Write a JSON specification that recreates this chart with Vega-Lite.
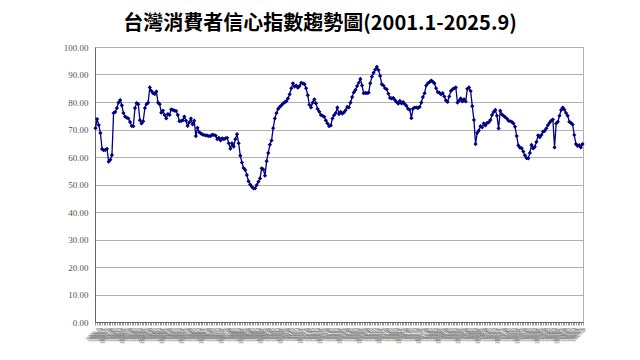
{
  "$schema": "https://vega.github.io/schema/vega-lite/v6.json",
  "autosize": "none",
  "width": 488,
  "height": 275,
  "padding": {"left": 95, "top": 47, "right": 57, "bottom": 38},
  "background": "white",
  "title": {
    "text": "台灣消費者信心指數趨勢圖(2001.1-2025.9)",
    "anchor": "middle",
    "frame": "group",
    "dx": -19,
    "offset": 9,
    "font": "Noto Sans CJK TC",
    "fontSize": 20,
    "fontWeight": "bold",
    "color": "#000000"
  },
  "config": {
    "view": {"stroke": "#b0b0b0", "strokeWidth": 1}
  },
  "data": {"values": [
{"m":"2001.1","v":70.5},{"m":"2001.2","v":73.8},{"m":"2001.3","v":71.6},{"m":"2001.4","v":68.7},{"m":"2001.5","v":62.9},{"m":"2001.6","v":62.5},{"m":"2001.7","v":62.6},{"m":"2001.8","v":63.0},{"m":"2001.9","v":58.3},{"m":"2001.10","v":59.0},{"m":"2001.11","v":60.7},{"m":"2001.12","v":76.0},
{"m":"2002.1","v":76.4},{"m":"2002.2","v":77.8},{"m":"2002.3","v":79.8},{"m":"2002.4","v":80.7},{"m":"2002.5","v":78.8},{"m":"2002.6","v":76.0},{"m":"2002.7","v":74.7},{"m":"2002.8","v":74.3},{"m":"2002.9","v":74.0},{"m":"2002.10","v":72.7},{"m":"2002.11","v":71.3},{"m":"2002.12","v":71.2},
{"m":"2003.1","v":77.8},{"m":"2003.2","v":79.6},{"m":"2003.3","v":79.2},{"m":"2003.4","v":73.4},{"m":"2003.5","v":72.2},{"m":"2003.6","v":73.0},{"m":"2003.7","v":77.8},{"m":"2003.8","v":79.2},{"m":"2003.9","v":79.8},{"m":"2003.10","v":85.3},{"m":"2003.11","v":84.0},{"m":"2003.12","v":83.2},
{"m":"2004.1","v":82.9},{"m":"2004.2","v":83.8},{"m":"2004.3","v":79.8},{"m":"2004.4","v":79.2},{"m":"2004.5","v":76.1},{"m":"2004.6","v":76.9},{"m":"2004.7","v":75.3},{"m":"2004.8","v":74.0},{"m":"2004.9","v":75.6},{"m":"2004.10","v":75.3},{"m":"2004.11","v":77.3},{"m":"2004.12","v":77.1},
{"m":"2005.1","v":76.9},{"m":"2005.2","v":76.7},{"m":"2005.3","v":75.3},{"m":"2005.4","v":73.0},{"m":"2005.5","v":73.1},{"m":"2005.6","v":73.3},{"m":"2005.7","v":74.7},{"m":"2005.8","v":73.2},{"m":"2005.9","v":71.3},{"m":"2005.10","v":72.6},{"m":"2005.11","v":74.0},{"m":"2005.12","v":71.9},
{"m":"2006.1","v":73.2},{"m":"2006.2","v":67.6},{"m":"2006.3","v":70.6},{"m":"2006.4","v":69.0},{"m":"2006.5","v":68.6},{"m":"2006.6","v":68.2},{"m":"2006.7","v":68.0},{"m":"2006.8","v":67.9},{"m":"2006.9","v":67.8},{"m":"2006.10","v":67.6},{"m":"2006.11","v":67.6},{"m":"2006.12","v":68.1},
{"m":"2007.1","v":68.0},{"m":"2007.2","v":67.8},{"m":"2007.3","v":66.5},{"m":"2007.4","v":67.0},{"m":"2007.5","v":66.0},{"m":"2007.6","v":66.8},{"m":"2007.7","v":66.5},{"m":"2007.8","v":66.8},{"m":"2007.9","v":67.0},{"m":"2007.10","v":65.0},{"m":"2007.11","v":63.0},{"m":"2007.12","v":65.0},
{"m":"2008.1","v":63.8},{"m":"2008.2","v":66.5},{"m":"2008.3","v":68.3},{"m":"2008.4","v":65.0},{"m":"2008.5","v":60.5},{"m":"2008.6","v":58.0},{"m":"2008.7","v":56.0},{"m":"2008.8","v":55.3},{"m":"2008.9","v":53.5},{"m":"2008.10","v":51.2},{"m":"2008.11","v":50.0},{"m":"2008.12","v":49.2},
{"m":"2009.1","v":48.6},{"m":"2009.2","v":48.6},{"m":"2009.3","v":49.8},{"m":"2009.4","v":51.0},{"m":"2009.5","v":52.2},{"m":"2009.6","v":55.9},{"m":"2009.7","v":55.5},{"m":"2009.8","v":53.2},{"m":"2009.9","v":58.5},{"m":"2009.10","v":61.5},{"m":"2009.11","v":64.5},{"m":"2009.12","v":66.0},
{"m":"2010.1","v":70.5},{"m":"2010.2","v":74.0},{"m":"2010.3","v":76.0},{"m":"2010.4","v":77.5},{"m":"2010.5","v":78.2},{"m":"2010.6","v":78.8},{"m":"2010.7","v":79.5},{"m":"2010.8","v":79.9},{"m":"2010.9","v":80.3},{"m":"2010.10","v":81.3},{"m":"2010.11","v":82.8},{"m":"2010.12","v":85.0},
{"m":"2011.1","v":86.8},{"m":"2011.2","v":85.6},{"m":"2011.3","v":86.0},{"m":"2011.4","v":85.2},{"m":"2011.5","v":85.8},{"m":"2011.6","v":87.0},{"m":"2011.7","v":86.8},{"m":"2011.8","v":86.5},{"m":"2011.9","v":85.0},{"m":"2011.10","v":82.5},{"m":"2011.11","v":79.0},{"m":"2011.12","v":78.0},
{"m":"2012.1","v":79.8},{"m":"2012.2","v":81.0},{"m":"2012.3","v":79.5},{"m":"2012.4","v":77.5},{"m":"2012.5","v":76.5},{"m":"2012.6","v":75.3},{"m":"2012.7","v":75.0},{"m":"2012.8","v":74.6},{"m":"2012.9","v":73.3},{"m":"2012.10","v":72.2},{"m":"2012.11","v":71.2},{"m":"2012.12","v":71.5},
{"m":"2013.1","v":74.0},{"m":"2013.2","v":75.2},{"m":"2013.3","v":76.0},{"m":"2013.4","v":78.0},{"m":"2013.5","v":75.6},{"m":"2013.6","v":76.4},{"m":"2013.7","v":75.8},{"m":"2013.8","v":76.2},{"m":"2013.9","v":77.0},{"m":"2013.10","v":78.2},{"m":"2013.11","v":78.0},{"m":"2013.12","v":79.8},
{"m":"2014.1","v":81.8},{"m":"2014.2","v":83.5},{"m":"2014.3","v":84.4},{"m":"2014.4","v":85.8},{"m":"2014.5","v":87.0},{"m":"2014.6","v":88.4},{"m":"2014.7","v":86.0},{"m":"2014.8","v":83.2},{"m":"2014.9","v":83.3},{"m":"2014.10","v":83.2},{"m":"2014.11","v":83.4},{"m":"2014.12","v":86.8},
{"m":"2015.1","v":89.2},{"m":"2015.2","v":90.6},{"m":"2015.3","v":91.8},{"m":"2015.4","v":92.8},{"m":"2015.5","v":91.6},{"m":"2015.6","v":89.5},{"m":"2015.7","v":86.5},{"m":"2015.8","v":86.0},{"m":"2015.9","v":85.0},{"m":"2015.10","v":84.6},{"m":"2015.11","v":83.0},{"m":"2015.12","v":81.5},
{"m":"2016.1","v":81.3},{"m":"2016.2","v":81.5},{"m":"2016.3","v":80.7},{"m":"2016.4","v":80.0},{"m":"2016.5","v":79.4},{"m":"2016.6","v":80.4},{"m":"2016.7","v":79.5},{"m":"2016.8","v":80.0},{"m":"2016.9","v":79.2},{"m":"2016.10","v":78.6},{"m":"2016.11","v":77.5},{"m":"2016.12","v":77.2},
{"m":"2017.1","v":74.1},{"m":"2017.2","v":77.6},{"m":"2017.3","v":78.0},{"m":"2017.4","v":78.0},{"m":"2017.5","v":77.8},{"m":"2017.6","v":78.2},{"m":"2017.7","v":79.8},{"m":"2017.8","v":81.8},{"m":"2017.9","v":83.2},{"m":"2017.10","v":86.0},{"m":"2017.11","v":86.8},{"m":"2017.12","v":87.2},
{"m":"2018.1","v":87.8},{"m":"2018.2","v":87.4},{"m":"2018.3","v":86.8},{"m":"2018.4","v":85.0},{"m":"2018.5","v":83.6},{"m":"2018.6","v":83.4},{"m":"2018.7","v":82.8},{"m":"2018.8","v":83.2},{"m":"2018.9","v":82.0},{"m":"2018.10","v":80.6},{"m":"2018.11","v":80.0},{"m":"2018.12","v":82.0},
{"m":"2019.1","v":84.0},{"m":"2019.2","v":84.6},{"m":"2019.3","v":85.0},{"m":"2019.4","v":85.3},{"m":"2019.5","v":79.8},{"m":"2019.6","v":80.5},{"m":"2019.7","v":81.3},{"m":"2019.8","v":80.2},{"m":"2019.9","v":81.0},{"m":"2019.10","v":80.2},{"m":"2019.11","v":84.8},{"m":"2019.12","v":85.3},
{"m":"2020.1","v":84.0},{"m":"2020.2","v":78.5},{"m":"2020.3","v":73.5},{"m":"2020.4","v":64.7},{"m":"2020.5","v":68.8},{"m":"2020.6","v":69.6},{"m":"2020.7","v":71.2},{"m":"2020.8","v":70.8},{"m":"2020.9","v":72.2},{"m":"2020.10","v":71.5},{"m":"2020.11","v":72.4},{"m":"2020.12","v":72.6},
{"m":"2021.1","v":73.5},{"m":"2021.2","v":75.3},{"m":"2021.3","v":76.4},{"m":"2021.4","v":77.1},{"m":"2021.5","v":75.0},{"m":"2021.6","v":70.4},{"m":"2021.7","v":76.8},{"m":"2021.8","v":75.5},{"m":"2021.9","v":75.0},{"m":"2021.10","v":74.5},{"m":"2021.11","v":74.0},{"m":"2021.12","v":73.2},
{"m":"2022.1","v":73.0},{"m":"2022.2","v":72.8},{"m":"2022.3","v":72.2},{"m":"2022.4","v":71.0},{"m":"2022.5","v":67.6},{"m":"2022.6","v":64.2},{"m":"2022.7","v":63.4},{"m":"2022.8","v":63.2},{"m":"2022.9","v":62.0},{"m":"2022.10","v":60.6},{"m":"2022.11","v":59.6},{"m":"2022.12","v":59.5},
{"m":"2023.1","v":61.5},{"m":"2023.2","v":64.4},{"m":"2023.3","v":63.1},{"m":"2023.4","v":63.7},{"m":"2023.5","v":65.5},{"m":"2023.6","v":67.9},{"m":"2023.7","v":67.2},{"m":"2023.8","v":68.0},{"m":"2023.9","v":69.2},{"m":"2023.10","v":69.5},{"m":"2023.11","v":70.4},{"m":"2023.12","v":71.6},
{"m":"2024.1","v":72.5},{"m":"2024.2","v":73.2},{"m":"2024.3","v":73.6},{"m":"2024.4","v":63.5},{"m":"2024.5","v":72.2},{"m":"2024.6","v":72.8},{"m":"2024.7","v":75.0},{"m":"2024.8","v":77.1},{"m":"2024.9","v":78.0},{"m":"2024.10","v":77.2},{"m":"2024.11","v":76.0},{"m":"2024.12","v":75.0},
{"m":"2025.1","v":72.8},{"m":"2025.2","v":72.4},{"m":"2025.3","v":71.8},{"m":"2025.4","v":68.0},{"m":"2025.5","v":64.7},{"m":"2025.6","v":64.0},{"m":"2025.7","v":64.3},{"m":"2025.8","v":63.5},{"m":"2025.9","v":64.7}
  ]},
  "mark": {
    "type": "line",
    "color": "#000080",
    "strokeWidth": 1.3,
    "point": {"shape": "diamond", "size": 18, "filled": true, "color": "#000080"}
  },
  "encoding": {
    "x": {
      "field": "m",
      "type": "ordinal",
      "sort": null,
      "scale": {"type": "point", "padding": 0.3},
      "axis": {
        "title": null,
        "labelAngle": -45,
        "labelFontSize": 6,
        "labelColor": "#777777",
        "labelFont": "Liberation Serif",
        "labelOverlap": false,
        "labelPadding": 1,
        "tickSize": 3,
        "tickColor": "#999999",
        "domainColor": "#666666",
        "grid": false
      }
    },
    "y": {
      "field": "v",
      "type": "quantitative",
      "scale": {"domain": [0, 100], "nice": false},
      "axis": {
        "title": null,
        "values": [0,10,20,30,40,50,60,70,80,90,100],
        "format": ".2f",
        "labelFont": "Liberation Serif",
        "labelFontSize": 9,
        "labelColor": "#555555",
        "labelPadding": 7,
        "ticks": false,
        "domainColor": "#666666",
        "gridColor": "#b0b0b0",
        "gridWidth": 1
      }
    }
  }
}
